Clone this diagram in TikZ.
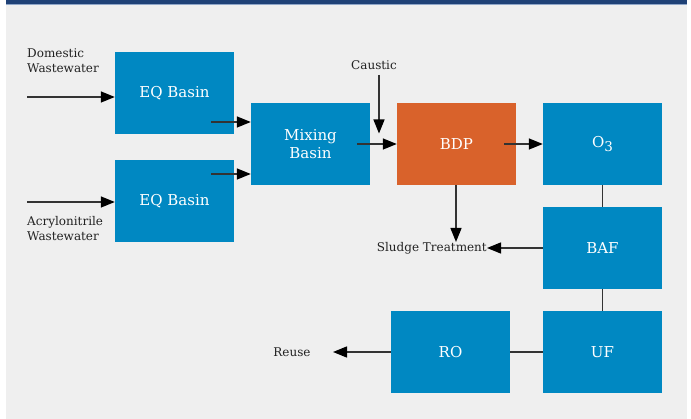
\documentclass[tikz,border=0pt]{standalone}
\usepackage{fontspec}
\setmainfont{DejaVu Serif}
\usetikzlibrary{arrows.meta}
\definecolor{boxblue}{HTML}{0088C2}
\definecolor{boxorange}{HTML}{D9622B}
\definecolor{bggray}{HTML}{EFEFEF}
\definecolor{barblue}{HTML}{1F4176}
\definecolor{barline}{HTML}{8FA6C8}
\definecolor{linegray}{HTML}{333333}
\definecolor{labeltxt}{HTML}{222222}
\tikzset{
  procbox/.style={draw=none, fill=boxblue, minimum width=119pt, minimum height=82pt, inner sep=0pt,
    text=white, font=\fontsize{15}{18}\selectfont, align=center},
  hotbox/.style={procbox, fill=boxorange},
  lbl/.style={text=labeltxt, font=\fontsize{12}{15}\selectfont, inner sep=0pt},
  conn/.style={draw=linegray, line width=1.4pt},
  arr/.style={conn, -{Triangle[length=14pt,width=11pt,fill=black,color=black]}},
}
\begin{document}
\begin{tikzpicture}[x=1pt,y=-1pt]
\useasboundingbox (0,0) rectangle (691,419);
\fill[white] (0,0) rectangle (691,419);
\fill[bggray] (6,0) rectangle (687,419);
\fill[barblue] (6,0) rectangle (687,4);
\fill[barline] (6,4) rectangle (687,5.2);

% process boxes
\node[procbox] (eq1) at (174.5,93.5) {EQ Basin};
\node[procbox] (eq2) at (174.5,201) {EQ Basin};
\node[procbox] (mix) at (310.5,144) {Mixing\\Basin};
\node[hotbox]  (bdp) at (456.5,144) {BDP};
\node[procbox] (o3)  at (602.5,144) {O\raisebox{-0.4ex}{\fontsize{13.5}{13.5}\selectfont 3}};
\node[procbox] (baf) at (602.5,248) {BAF};
\node[procbox] (uf)  at (602.5,352) {UF};
\node[procbox] (ro)  at (450.5,352) {RO};

% labels
\node[lbl, anchor=west, align=left] (dom) at (27,61) {Domestic\\Wastewater};
\node[lbl, anchor=west, align=left] (acr) at (27,229) {Acrylonitrile\\Wastewater};
\node[lbl] (caustic) at (374,65) {Caustic};
\node[lbl, anchor=east] (sludge) at (487,248) {Sludge Treatment};
\node[lbl] (reuse) at (292,352) {Reuse};

% connector start points
\coordinate (ds) at (27,97);
\coordinate (as) at (27,202);
\coordinate (e1) at (211,122);
\coordinate (e2) at (211,174);
\coordinate (ms) at (357,144);
\coordinate (cs) at (379,75);
\coordinate (ce) at (379,133.5);
\coordinate (bs) at (504,144);
\coordinate (se) at (456,242);
\coordinate (re) at (333,352);

\draw[arr] (ds) -- (ds -| eq1.west);
\draw[arr] (as) -- (as -| eq2.west);
\draw[arr] (e1) -- (e1 -| mix.west);
\draw[arr] (e2) -- (e2 -| mix.west);
\draw[arr] (ms) -- (ms -| bdp.west);
\draw[arr] (cs) -- (ce);
\draw[arr] (bs) -- (bs -| o3.west);
\draw[arr] (bdp.south -| se) -- (se);
\draw[arr] (baf.west) -- (sludge.east);
\draw[conn] (o3.south) -- (baf.north);
\draw[conn] (baf.south) -- (uf.north);
\draw[conn] (uf.west) -- (ro.east);
\draw[arr] (ro.west) -- (re);
\end{tikzpicture}
\end{document}
